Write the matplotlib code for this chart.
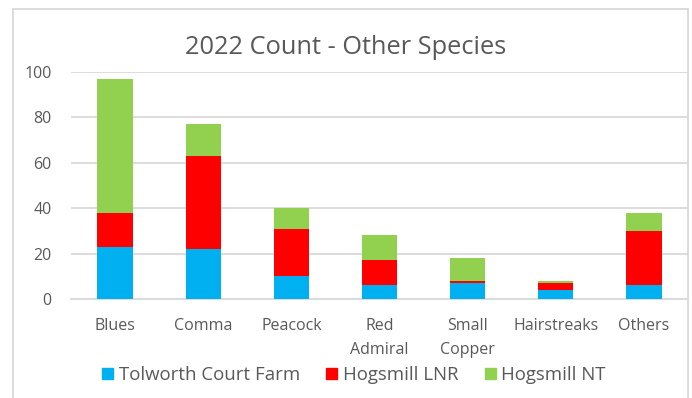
import matplotlib
matplotlib.use("Agg")
import matplotlib.pyplot as plt
from matplotlib.patches import Rectangle, Patch

plt.rcParams['font.family'] = ['Open Sans', 'DejaVu Sans']

# butterfly counts per site, 2022
species = ["Blues", "Comma", "Peacock", "Red\nAdmiral", "Small\nCopper", "Hairstreaks", "Others"]
tolworth = [23, 22, 10, 6, 7, 4, 6]
hogsmill_lnr = [15, 41, 21, 11, 1, 3, 24]
hogsmill_nt = [59, 14, 9, 11, 10, 1, 8]

sites = ["Tolworth Court Farm", "Hogsmill LNR", "Hogsmill NT"]
colours = ["#00B0F0", "#FF0000", "#92D050"]
grey = "#595959"

fig = plt.figure(figsize=(6.92, 3.98), dpi=100)
ax = fig.add_axes([71 / 692, 1 - 299 / 398, 617 / 692, 227 / 398])

x = range(len(species))
bottom2 = [a + b for a, b in zip(tolworth, hogsmill_lnr)]
ax.bar(x, tolworth, width=0.4, color=colours[0], zorder=3)
ax.bar(x, hogsmill_lnr, width=0.4, bottom=tolworth, color=colours[1], zorder=3)
ax.bar(x, hogsmill_nt, width=0.4, bottom=bottom2, color=colours[2], zorder=3)

ax.set_xlim(-0.5, len(species) - 0.5)
ax.set_ylim(0, 100)
ax.set_yticks(range(0, 101, 20))
ax.yaxis.grid(True, color="#D9D9D9", linewidth=1.3)
ax.set_axisbelow(True)
for s in ["top", "right", "left"]:
    ax.spines[s].set_visible(False)
ax.spines["bottom"].set_color("#D9D9D9")
ax.spines["bottom"].set_linewidth(1.3)
ax.tick_params(length=0, labelsize=11.5, colors=grey)
ax.tick_params(axis="y", pad=14)
ax.tick_params(axis="x", pad=14)
ax.set_xticks(list(x))
ax.set_xticklabels(species, linespacing=1.6)

fig.text(0.5, 1 - 48 / 398, "2022 Count - Other Species", ha="center", va="center",
         fontsize=18.3, color=grey)

# outer chart frame
fig.patches.append(Rectangle((13 / 692, -0.1), 675 / 692, 1.1 - 9 / 398,
                             transform=fig.transFigure, fill=False,
                             edgecolor="#D9D9D9", linewidth=1.3))

handles = [Patch(color=c, label=s) for c, s in zip(colours, sites)]
fig.legend(handles=handles, loc="center", bbox_to_anchor=(354 / 692, 1 - 375 / 398),
           ncol=3, frameon=False, fontsize=13.4, labelcolor=grey,
           handlelength=0.6, handleheight=0.6, handletextpad=0.3,
           columnspacing=1.4, borderpad=0)

fig.savefig("out.png", dpi=100)
